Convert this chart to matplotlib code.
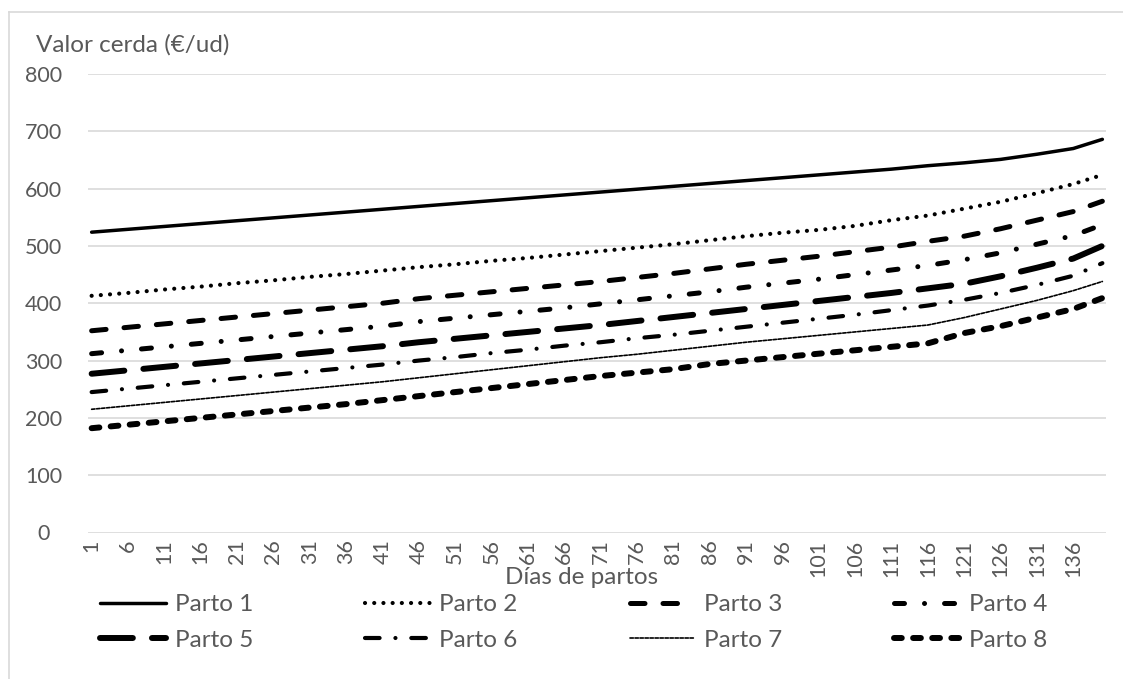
import matplotlib as mpl
mpl.use("Agg")
import matplotlib.pyplot as plt
from matplotlib.lines import Line2D

dias = [1, 6, 11, 16, 21, 26, 31, 36, 41, 46, 51, 56, 61, 66, 71, 76, 81, 86,
        91, 96, 101, 106, 111, 116, 121, 126, 131, 136, 140]

parto1 = [524, 529, 534, 539, 544, 549, 554, 559, 564, 569, 574, 579, 584, 589,
          594, 599, 604, 609, 614, 619, 624, 629, 634, 640, 645, 651, 660, 670, 686]
parto2 = [413, 418, 424, 429, 435, 440, 446, 451, 457, 463, 468, 474, 479, 485,
          491, 497, 503, 510, 517, 523, 528, 535, 545, 553, 565, 577, 592, 608, 624]
parto3 = [352, 358, 364, 370, 376, 382, 388, 394, 400, 408, 414, 420, 426, 432,
          438, 445, 452, 460, 468, 475, 482, 490, 498, 508, 517, 530, 545, 560, 578]
parto4 = [312, 318, 324, 330, 336, 342, 348, 354, 360, 368, 374, 380, 386, 392,
          399, 406, 413, 420, 428, 435, 442, 450, 458, 466, 476, 488, 503, 518, 537]
parto5 = [277, 283, 289, 295, 301, 307, 313, 319, 325, 332, 338, 344, 350, 356,
          362, 369, 376, 383, 390, 397, 404, 411, 418, 426, 434, 447, 462, 478, 500]
parto6 = [245, 251, 257, 263, 269, 275, 281, 287, 293, 300, 306, 313, 319, 326,
          332, 339, 345, 352, 359, 366, 373, 380, 388, 396, 406, 418, 432, 448, 470]
parto7 = [215, 221, 227, 233, 239, 245, 251, 257, 263, 270, 277, 284, 291, 298,
          305, 311, 318, 325, 332, 338, 344, 350, 356, 362, 375, 390, 405, 422, 438]
parto8 = [182, 188, 194, 200, 206, 212, 218, 224, 231, 238, 245, 252, 259, 266,
          273, 279, 285, 294, 300, 306, 312, 318, 324, 330, 348, 360, 375, 390, 409]

series = [parto1, parto2, parto3, parto4, parto5, parto6, parto7, parto8]
nombres = ["Parto 1", "Parto 2", "Parto 3", "Parto 4",
           "Parto 5", "Parto 6", "Parto 7", "Parto 8"]
xticks = list(range(1, 137, 5))

# estilo de cada linea: (grosor, patron)
estilos = [
    (2.5, "solid"),
    (3.0, (0, (0.01, 2.2))),
    (3.6, (0, (2.9, 3.6))),
    (3.6, (0, (2.0, 4.0, 0.01, 4.0))),
    (4.3, (0, (5.5, 3.2))),
    (3.0, (0, (3.5, 3.8, 0.01, 3.8))),
    (1.2, (0, (2.0, 1.0))),
    (4.3, (0, (1.3, 1.9))),
]

gris = "#595959"
fs_txt = 17.5
fs_num = 15.5
plt.rcParams["font.family"] = ["Lato", "DejaVu Sans"]

fig = plt.figure(figsize=(11.23, 6.79), dpi=100)
ax = fig.add_axes([88 / 1123, 1 - 532.5 / 679, (1106 - 88) / 1123, (532.5 - 74) / 679])

lineas = []
for vals, nombre, (lw, ls) in zip(series, nombres, estilos):
    l, = ax.plot(dias, vals, color="black", lw=lw, linestyle=ls,
                 dash_capstyle="round", solid_capstyle="round", label=nombre)
    lineas.append(l)

ax.set_xlim(0.5, 140.5)
ax.set_ylim(0, 800)
ax.set_yticks(range(0, 801, 100))
ax.set_xticks(xticks)
ax.set_xticklabels([str(t) for t in xticks], rotation=90)
ax.grid(axis="y", color="#d9d9d9", lw=1.2)
ax.set_axisbelow(True)
for s in ax.spines.values():
    s.set_visible(False)
ax.tick_params(axis="both", length=0, labelcolor=gris, labelsize=fs_num)
ax.tick_params(axis="x", pad=5)
ax.tick_params(axis="y", pad=32)
for t in ax.get_yticklabels():
    t.set_ha("center")

fig.text(36 / 1123, 1 - 45 / 679, "Valor cerda (€/ud)", ha="left", va="center",
         color=gris, fontsize=fs_txt)
fig.text(582 / 1123, 1 - 578 / 679, "Días de partos", ha="center", va="center",
         color=gris, fontsize=fs_txt)

# leyenda en filas: se reordena porque matplotlib llena por columnas
orden = [0, 4, 1, 5, 2, 6, 3, 7]
fig.legend([lineas[i] for i in orden], [nombres[i] for i in orden],
           ncol=4, loc="upper left", bbox_to_anchor=(100 / 1123, 1 - 594 / 679),
           frameon=False, borderpad=0, borderaxespad=0, handlelength=2.7,
           handletextpad=0.37, columnspacing=4.6, labelspacing=0.6,
           fontsize=fs_txt, labelcolor=gris)

# marco exterior del grafico
fig.add_artist(Line2D([9 / 1123, 1], [1 - 12 / 679, 1 - 12 / 679], color="#d9d9d9", lw=1.2))
fig.add_artist(Line2D([9 / 1123, 9 / 1123], [0, 1 - 12 / 679], color="#d9d9d9", lw=1.2))

fig.savefig("out.png", dpi=100)
